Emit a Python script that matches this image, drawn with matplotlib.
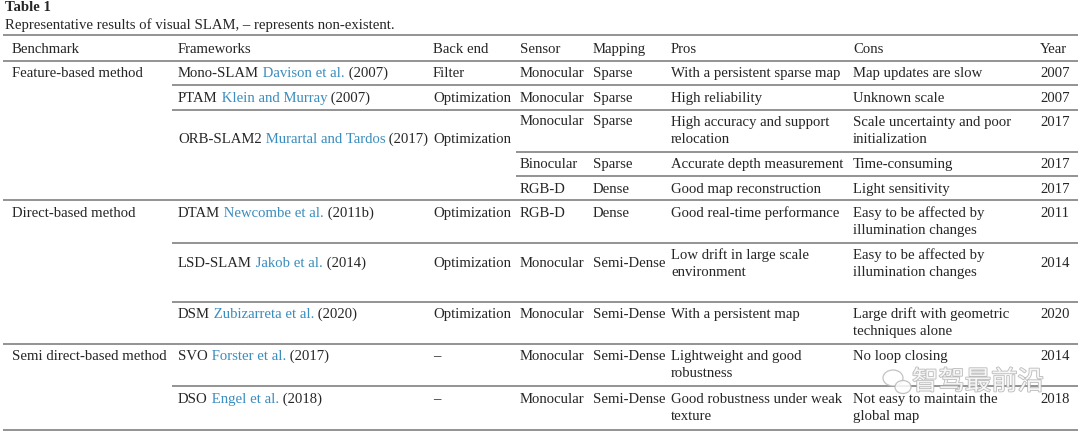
import matplotlib
matplotlib.use("Agg")
from matplotlib import pyplot as plt
from matplotlib.patches import Ellipse
import matplotlib.patheffects as pe

# table content
title = "Table 1"
caption = "Representative results of visual SLAM, \u2013 represents non-existent."
headers = ["Benchmark", "Frameworks", "Back end", "Sensor", "Mapping", "Pros", "Cons", "Year"]

benchmarks = ["Feature-based method", "Direct-based method", "Semi direct-based method"]
fw_names = ["Mono-SLAM", "PTAM", "ORB-SLAM2", "DTAM", "LSD-SLAM", "DSM", "SVO", "DSO"]
fw_authors = ["Davison et al.", "Klein and Murray", "Murartal and Tardos", "Newcombe et al.",
              "Jakob et al.", "Zubizarreta et al.", "Forster et al.", "Engel et al."]
fw_years = ["2007", "2007", "2017", "2011b", "2014", "2020", "2017", "2018"]
back_ends = ["Filter", "Optimization", "Optimization", "Optimization", "Optimization",
             "Optimization", "\u2013", "\u2013"]

# one entry per sub-row (ORB-SLAM2 has three sensor rows)
sensors = ["Monocular", "Monocular", "Monocular", "Binocular", "RGB-D", "RGB-D",
           "Monocular", "Monocular", "Monocular", "Monocular"]
mappings = ["Sparse", "Sparse", "Sparse", "Sparse", "Dense", "Dense",
            "Semi-Dense", "Semi-Dense", "Semi-Dense", "Semi-Dense"]
pros = ["With a persistent sparse map", "High reliability",
        "High accuracy and support\nrelocation", "Accurate depth measurement",
        "Good map reconstruction", "Good real-time performance",
        "Low drift in large scale\nenvironment", "With a persistent map",
        "Lightweight and good\nrobustness", "Good robustness under weak\ntexture"]
cons = ["Map updates are slow", "Unknown scale", "Scale uncertainty and poor\ninitialization",
        "Time-consuming", "Light sensitivity", "Easy to be affected by\nillumination changes",
        "Easy to be affected by\nillumination changes", "Large drift with geometric\ntechniques alone",
        "No loop closing", "Not easy to maintain the\nglobal map"]
years = ["2007", "2007", "2017", "2017", "2017", "2011", "2014", "2020", "2014", "2018"]

# layout (pixels)
W, H = 1080, 433
col_x = [12, 178, 433, 520, 593, 671, 853, 1040]
sub_y = [72, 97, 121, 163, 188, 212, 254, 313, 355, 398]
single_y = [72, 97, 120, 163, 188, 212, 262, 313, 355, 398]
fw_y = [72, 97, 138, 212, 262, 313, 355, 398]
bench_y = [72, 212, 355]
full_rules = [35, 61, 200, 344, 430]
fw_rules = [85, 110, 243, 302, 386]
sensor_rules = [152, 176]
line_gap = 17
dy = 1.5

txt = "#262626"
blue = "#3a8dbf"
rule_c = "#808080"
fs = 10.6
font = "Liberation Serif"

fig = plt.figure(figsize=(W / 100, H / 100), dpi=100)
ax = fig.add_axes([0, 0, 1, 1])
ax.set_xlim(0, W)
ax.set_ylim(H, 0)
ax.axis('off')

def put(x, y, s, **kw):
    return ax.text(x, y + dy, s, fontsize=fs, family=font, color=kw.pop("color", txt),
                   va="center", ha="left", linespacing=1.15, **kw)

put(5, 6, title, fontweight="bold")
put(5, 24, caption)

for y in full_rules:
    ax.plot([3, 1078], [y, y], color=rule_c, lw=1.2, solid_capstyle="butt")
for y in fw_rules:
    ax.plot([172, 1078], [y, y], color=rule_c, lw=1.2, solid_capstyle="butt")
for y in sensor_rules:
    ax.plot([516, 1078], [y, y], color=rule_c, lw=1.2, solid_capstyle="butt")

for x, h in zip(col_x, headers):
    put(x, 48, h)

for b, y in zip(benchmarks, bench_y):
    put(col_x[0], y, b)

for i, y in enumerate(fw_y):
    t = put(col_x[1], y, fw_names[i])
    t = ax.annotate(" " + fw_authors[i], xy=(1, 0), xycoords=t, va="bottom", ha="left",
                    fontsize=fs, family=font, color=blue)
    ax.annotate(" (" + fw_years[i] + ")", xy=(1, 0), xycoords=t, va="bottom", ha="left",
                fontsize=fs, family=font, color=txt)
    put(col_x[2], y, back_ends[i])

for i in range(len(sensors)):
    put(col_x[3], single_y[i], sensors[i])
    put(col_x[4], single_y[i], mappings[i])
    for cx, cell in ((col_x[5], pros[i]), (col_x[6], cons[i])):
        lines = cell.split("\n")
        if len(lines) == 1:
            put(cx, single_y[i], cell)
        else:
            for k, ln in enumerate(lines):
                put(cx, sub_y[i] + k * line_gap, ln)
    put(col_x[7], single_y[i] if i == 6 else sub_y[i], years[i])

# watermark
wm = "\u667a\u9a7e\u6700\u524d\u6cbf"
ax.text(912, 382, wm, fontsize=19, family=["Noto Sans CJK SC", "DejaVu Sans"], color="white",
        alpha=0.85, va="center", ha="left", zorder=5,
        path_effects=[pe.withStroke(linewidth=1.2, foreground="#b0b0b0")])
ax.add_patch(Ellipse((893, 378), 20, 16, fill=True, fc="white", ec="#b8b8b8", lw=0.9, alpha=0.85, zorder=5))
ax.add_patch(Ellipse((903, 387), 16, 13, fill=True, fc="white", ec="#b8b8b8", lw=0.9, alpha=0.85, zorder=5))

fig.savefig("out.png", dpi=100)
